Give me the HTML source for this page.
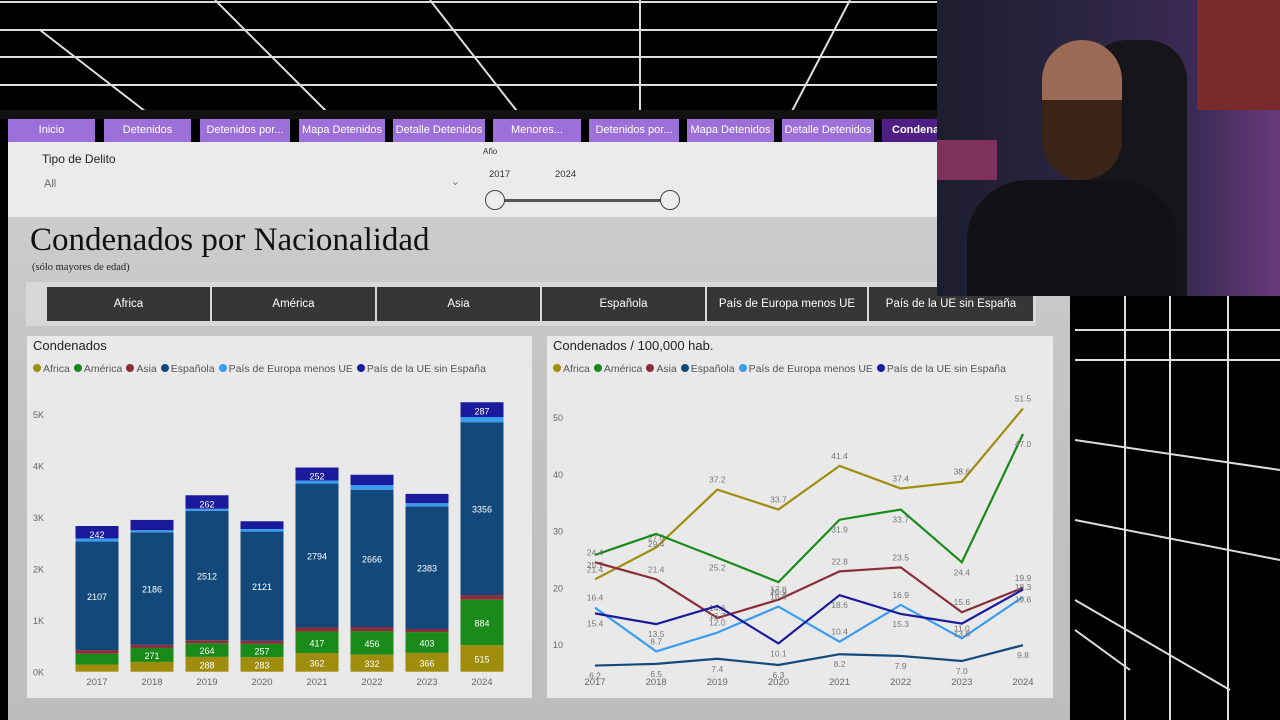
<!DOCTYPE html>
<html><head><meta charset="utf-8">
<style>
body{margin:0;width:1280px;height:720px;overflow:hidden;background:#000;font-family:"Liberation Sans",sans-serif;position:relative}
.abs{position:absolute}
.tab{position:absolute;top:119px;height:23px;background:#9d6fd8;color:#fff;font-size:11px;line-height:23px;text-align:center;overflow:hidden;white-space:nowrap}
.btn{position:absolute;top:287px;height:34px;background:#363636;color:#fff;font-size:11.5px;line-height:34px;text-align:center}
.card{position:absolute;top:336px;height:362px;background:#e9e9e9}
.ctitle{position:absolute;left:6px;top:2px;font-size:13px;color:#222}
.leg{position:absolute;left:6px;top:27px;font-size:10.5px;color:#555;white-space:nowrap}
.leg span{margin-right:4px}
.dot{display:inline-block;width:8px;height:8px;border-radius:50%;margin-right:2px;vertical-align:-0px}
</style></head><body>
<svg class="abs" style="left:0;top:0" width="1280" height="720">
<g stroke="#ddd" stroke-width="2" fill="none">
<line x1="0" y1="2" x2="937" y2="2"/><line x1="0" y1="30" x2="937" y2="30"/><line x1="0" y1="57" x2="937" y2="57"/><line x1="0" y1="85" x2="937" y2="85"/>
<line x1="40" y1="30" x2="150" y2="115"/><line x1="215" y1="0" x2="330" y2="115"/><line x1="430" y1="0" x2="520" y2="115"/><line x1="640" y1="0" x2="640" y2="115"/><line x1="850" y1="0" x2="790" y2="115"/>
<line x1="1125" y1="296" x2="1125" y2="720"/><line x1="1170" y1="296" x2="1170" y2="720"/><line x1="1228" y1="296" x2="1228" y2="720"/>
<line x1="1075" y1="330" x2="1280" y2="330"/><line x1="1075" y1="360" x2="1280" y2="360"/><line x1="1075" y1="440" x2="1280" y2="470"/><line x1="1075" y1="520" x2="1280" y2="560"/><line x1="1075" y1="600" x2="1230" y2="690"/><line x1="1075" y1="630" x2="1130" y2="670"/>
</g></svg>
<div class="abs" style="left:0;top:110px;width:937px;height:9px;background:#111"></div>
<div class="abs" style="left:8px;top:142px;width:1062px;height:578px;background:linear-gradient(#d0d0d0,#c4c4c4 40%,#bdbdbd)"></div>
<div class="abs" style="left:8px;top:142px;width:929px;height:75px;background:#ebebeb"></div>

<div class="tab" style="left:8px;width:87px">Inicio</div>
<div class="tab" style="left:104px;width:87px">Detenidos</div>
<div class="tab" style="left:200px;width:90px">Detenidos por...</div>
<div class="tab" style="left:299px;width:86px">Mapa Detenidos</div>
<div class="tab" style="left:393px;width:92px">Detalle Detenidos</div>
<div class="tab" style="left:493px;width:88px">Menores...</div>
<div class="tab" style="left:589px;width:90px">Detenidos por...</div>
<div class="tab" style="left:687px;width:87px">Mapa Detenidos</div>
<div class="tab" style="left:782px;width:92px">Detalle Detenidos</div>
<div class="tab" style="left:882px;width:55px;background:#4f1f85;font-weight:bold;text-align:left;padding-left:10px;box-sizing:border-box">Condenados</div>

<div class="abs" style="left:42px;top:152px;font-size:12px;color:#222">Tipo de Delito</div>
<div class="abs" style="left:44px;top:178px;width:416px;font-size:11px;color:#666">All<span style="position:absolute;right:0;top:-3px;color:#777">&#8964;</span></div>
<div class="abs" style="left:483px;top:147px;font-size:8px;color:#333">Año</div>
<div class="abs" style="left:489px;top:169px;font-size:9.5px;color:#333">2017</div>
<div class="abs" style="left:555px;top:169px;font-size:9.5px;color:#333">2024</div>
<div class="abs" style="left:495px;top:199px;width:175px;height:3px;background:#555"></div>
<div class="abs" style="left:485px;top:190px;width:18px;height:18px;border:1.5px solid #444;border-radius:50%;background:#eee"></div>
<div class="abs" style="left:660px;top:190px;width:18px;height:18px;border:1.5px solid #444;border-radius:50%;background:#eee"></div>

<div class="abs" style="left:30px;top:222px;font-family:'Liberation Serif',serif;font-size:33px;color:#111">Condenados por Nacionalidad</div>
<div class="abs" style="left:32px;top:262px;font-family:'Liberation Serif',serif;font-size:10.5px;color:#222">(sólo mayores de edad)</div>

<div class="abs" style="left:26px;top:282px;width:1010px;height:44px;background:#d8d8d8"></div>
<div class="btn" style="left:47px;width:163px">Africa</div>
<div class="btn" style="left:212px;width:163px">América</div>
<div class="btn" style="left:377px;width:163px">Asia</div>
<div class="btn" style="left:542px;width:163px">Española</div>
<div class="btn" style="left:707px;width:160px">País de Europa menos UE</div>
<div class="btn" style="left:869px;width:164px">País de la UE sin España</div>

<div class="card" style="left:27px;width:505px">
<div class="ctitle">Condenados</div>
<div class="leg"><span><i class="dot" style="background:#a08d0e"></i>Africa</span><span><i class="dot" style="background:#1a8a1a"></i>América</span><span><i class="dot" style="background:#8b2e3b"></i>Asia</span><span><i class="dot" style="background:#12497a"></i>Española</span><span><i class="dot" style="background:#3a9cf0"></i>País de Europa menos UE</span><span><i class="dot" style="background:#1a1a9c"></i>País de la UE sin España</span></div>
</div>
<div class="card" style="left:547px;width:506px">
<div class="ctitle">Condenados / 100,000 hab.</div>
<div class="leg"><span><i class="dot" style="background:#a08d0e"></i>Africa</span><span><i class="dot" style="background:#1a8a1a"></i>América</span><span><i class="dot" style="background:#8b2e3b"></i>Asia</span><span><i class="dot" style="background:#12497a"></i>Española</span><span><i class="dot" style="background:#3a9cf0"></i>País de Europa menos UE</span><span><i class="dot" style="background:#1a1a9c"></i>País de la UE sin España</span></div>
</div>

<div class="abs" style="left:937px;top:0;width:343px;height:296px;background:linear-gradient(90deg,#1c1d2e,#2a2440 40%,#3a2a55 75%,#6a3a7a)">
<div class="abs" style="left:0;top:140px;width:60px;height:40px;background:#c0407a;opacity:.6"></div>
<div class="abs" style="left:150px;top:40px;width:100px;height:256px;background:#15151a;border-radius:40px 40px 0 0"></div>
<div class="abs" style="left:105px;top:40px;width:80px;height:110px;background:#9a6a55;border-radius:40px"></div>
<div class="abs" style="left:105px;top:100px;width:80px;height:80px;background:#3a2418;border-radius:0 0 40px 40px"></div>
<div class="abs" style="left:30px;top:180px;width:210px;height:116px;background:#121216;border-radius:60px 60px 0 0"></div>
<div class="abs" style="left:260px;top:0;width:83px;height:110px;background:#7a2a2a"></div>
</div>

<svg class="abs" style="left:0;top:0" width="1280" height="720" id="charts"></svg>
<script>
const years=["2017","2018","2019","2020","2021","2022","2023","2024"];
const barAfrica=[140,190,288,283,362,332,366,515];
const barAmerica=[210,271,264,257,417,456,403,884];
const barAsia=[70,60,60,60,80,80,60,90];
const barEspanola=[2107,2186,2512,2121,2794,2666,2383,3356];
const barEuropa=[60,40,40,50,60,90,60,100];
const barUE=[242,200,262,150,252,200,180,287];
const barLabelShow=[[0,0,0,1,0,1],[0,1,0,1,0,0],[1,1,0,1,0,1],[1,1,0,1,0,0],[1,1,0,1,0,1],[1,1,0,1,0,0],[1,1,0,1,0,0],[1,1,0,1,0,1]];
const barTicks=[0,1000,2000,3000,4000,5000];
const barTickLabels=["0K","1K","2K","3K","4K","5K"];
const lineAfrica=[21.4,27.0,37.2,33.7,41.4,37.4,38.6,51.5];
const lineAmerica=[25.7,29.4,25.2,20.9,31.9,33.7,24.4,47.0];
const lineAsia=[24.4,21.4,14.6,17.8,22.8,23.5,15.6,19.9];
const lineEspanola=[6.2,6.5,7.4,6.3,8.2,7.9,7.0,9.8];
const lineEuropa=[16.4,8.7,12.0,16.6,10.4,16.9,11.0,18.3];
const lineUE=[15.4,13.5,16.7,10.1,18.6,15.3,13.6,19.6];
const lineTicks=[10,20,30,40,50];
const colors=["#a08d0e","#1a8a1a","#8b2e3b","#12497a","#3a9cf0","#1a1a9c"];
const NS="http://www.w3.org/2000/svg";
const svg=document.getElementById('charts');
function mk(t,a,txt){const e=document.createElementNS(NS,t);for(const k in a)e.setAttribute(k,a[k]);if(txt!==undefined)e.textContent=txt;svg.appendChild(e);return e;}
const byScale=v=>671.7-v*0.0515;
const bxScale=i=>97+i*55;
barTicks.forEach((t,i)=>{
 const l=mk('text',{x:33,y:byScale(t)+4,'font-size':9,fill:'#666'},barTickLabels[i]);
 
 
});
const stacks=[barAfrica,barAmerica,barAsia,barEspanola,barEuropa,barUE];
years.forEach((y,i)=>{
 let base=0;
 stacks.forEach((s,k)=>{
  const v=s[i];
  const r=mk('rect',{x:bxScale(i)-21.5,y:byScale(base+v),width:43,height:v*0.0515,fill:colors[k]});
  
  
  if(barLabelShow[i][k]){
   const ty=byScale(base+v/2)+4;
   const t=mk('text',{x:bxScale(i),y:k==5?byScale(base+v)+12:ty,'font-size':9,fill:'#fff','text-anchor':'middle'},String(v));
   
   
  }
  base+=v;
 });
 const xl=mk('text',{x:bxScale(i),y:685,'font-size':9.5,fill:'#666','text-anchor':'middle'},y);
 
 
});
const lyScale=v=>644-(v-10)*5.675;
const lxScale=i=>595+i*61.14;
lineTicks.forEach(t=>{
 const l=mk('text',{x:553,y:lyScale(t)+4,'font-size':9,fill:'#666'},String(t));
 
 
});
years.forEach((y,i)=>{
 const xl=mk('text',{x:lxScale(i),y:685,'font-size':9.5,fill:'#666','text-anchor':'middle'},y);
 
 
});
const series=[lineAfrica,lineAmerica,lineAsia,lineEspanola,lineEuropa,lineUE];
const names=['africa','america','asia','espanola','europa','ue'];
series.forEach((s,k)=>{
 const p=mk('polyline',{points:s.map((v,i)=>lxScale(i)+','+lyScale(v)).join(' '),fill:'none',stroke:colors[k],'stroke-width':2.2});
 
 
 s.forEach((v,i)=>{
  const t=mk('text',{x:lxScale(i),y:lyScale(v)-(k%2?-13:7),'font-size':8.5,fill:'#777','text-anchor':'middle'},v.toFixed(1));
  
  
 });
});
</script>
</body></html>
